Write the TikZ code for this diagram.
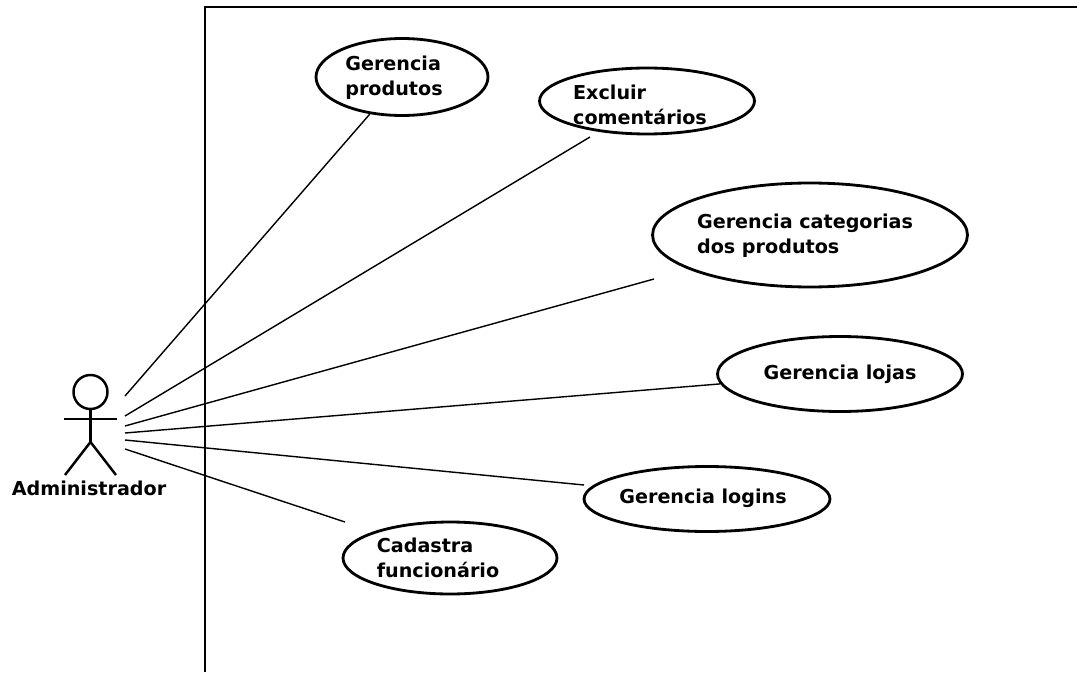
\documentclass[tikz,border=0pt]{standalone}
\usepackage{fontspec}
\setmainfont{DejaVu Sans}
\usetikzlibrary{positioning, shapes.geometric}

\begin{document}
\begin{tikzpicture}[
	x=0.02cm, y=-0.02cm,
	usecase/.style = {ellipse, draw, line width=1.6pt, inner sep=0pt},
	usecase text/.style = {align=left, inner sep=0pt, font=\bfseries\fontsize{10.9}{14.4}\selectfont},
	assoc/.style = {line width=0.8pt},
	stick/.style = {line width=1.4pt}
]
\useasboundingbox (0,0) rectangle (1077,672);

% system boundary
\coordinate (corner) at (205,7);
\draw[line width=1pt] (205,672) -- (corner) -- (1077,7);

% actor
\node[circle, draw, stick, minimum size=0.68cm, inner sep=0pt] (head) at (90.5,392) {};
\coordinate (hip) at (90.5,442);
\coordinate (arm left) at (64,419);
\coordinate (arm right) at (117,419);
\coordinate (foot left) at (65,475);
\coordinate (foot right) at (116,475);
\draw[stick] (head) -- (hip);
\draw[stick] (arm left) -- (arm right);
\draw[stick] (foot left) -- (hip) -- (foot right);
\node[usecase text] (admin) at (89,488) {Administrador};

% use cases
\node[usecase, minimum width=3.44cm, minimum height=1.54cm] (produtos) at (402,77) {};
\node[usecase, minimum width=4.3cm, minimum height=1.32cm] (comentarios) at (647,101) {};
\node[usecase, minimum width=6.3cm, minimum height=2.08cm] (categorias) at (810,235) {};
\node[usecase, minimum width=4.9cm, minimum height=1.5cm] (lojas) at (840,374) {};
\node[usecase, minimum width=4.92cm, minimum height=1.3cm] (logins) at (707,499) {};
\node[usecase, minimum width=4.28cm, minimum height=1.44cm] (cadastra) at (450,558) {};

\node[usecase text] (produtos text) at (394,78) {Gerencia\\produtos};
\node[usecase text] (comentarios text) at (640,105) {Excluir\\comentários};
\node[usecase text] (categorias text) at (805,236) {Gerencia categorias\\dos produtos};
\node[usecase text] (lojas text) at (840,374) {Gerencia lojas};
\node[usecase text] (logins text) at (703,498) {Gerencia logins};
\node[usecase text] (cadastra text) at (438,558) {Cadastra\\funcionário};

% associations
\coordinate (from produtos) at (125,396);
\coordinate (from comentarios) at (125,416);
\coordinate (from categorias) at (125,426);
\coordinate (from lojas) at (125,433);
\coordinate (from logins) at (125,440);
\coordinate (from cadastra) at (125,449);
\coordinate (to comentarios) at (590,137);
\coordinate (to categorias) at (654,279);
\coordinate (to logins) at (584,485);
\coordinate (to cadastra) at (345,522);

\draw[assoc] (from produtos) -- (produtos);
\draw[assoc] (from comentarios) -- (to comentarios);
\draw[assoc] (from categorias) -- (to categorias);
\draw[assoc] (from lojas) -- (lojas);
\draw[assoc] (from logins) -- (to logins);
\draw[assoc] (from cadastra) -- (to cadastra);

\end{tikzpicture}
\end{document}
